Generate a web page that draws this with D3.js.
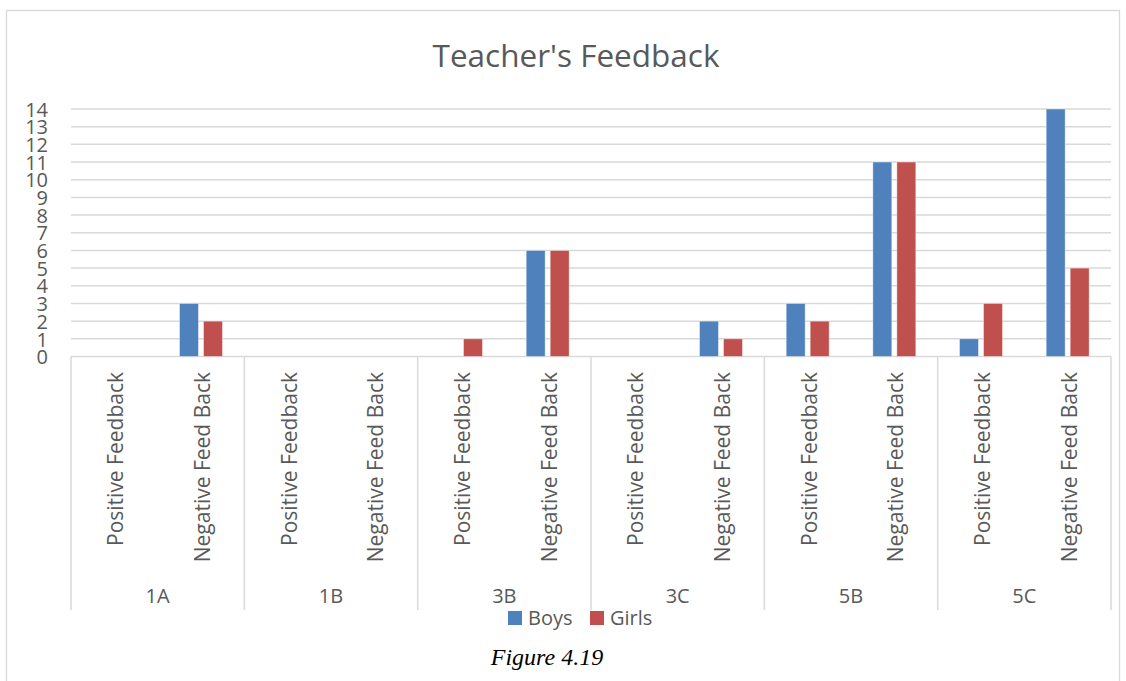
<!DOCTYPE html>
<html><head><meta charset="utf-8">
<script src="https://cdn.jsdelivr.net/npm/d3@7"></script>
<style>body{margin:0;background:#fff}svg{display:block}</style>
</head><body>
<svg id="chart" width="1126" height="681"></svg>
<script>
const groups = ["1A","1B","3B","3C","5B","5C"];
const subcats = ["Positive Feedback","Negative Feed Back"];
const seriesNames = ["Boys","Girls"];
const boys  = [0,3, 0,0, 0,6, 0,2, 3,11, 1,14];
const girls = [0,2, 0,0, 1,6, 0,1, 2,11, 3,5];
const yTicks = [0,1,2,3,4,5,6,7,8,9,10,11,12,13,14];
const colors = ["#4F81BD","#C0504D"];
const title = "Teacher's Feedback";
const caption = "Figure 4.19";

const font = "'Open Sans', 'Noto Sans', sans-serif";
const svg = d3.select("#chart");

// outer frame
svg.append("rect").attr("x",6.5).attr("y",10.5).attr("width",1113).attr("height",700)
  .attr("fill","none").attr("stroke","#d9d9d9").attr("stroke-width",1.3);

const pLeft = 71, pRight = 1111, pTop = 109, pBottom = 356.5;
const y = d3.scaleLinear().domain([0,14]).range([pBottom, pTop]);
const x0 = d3.scaleBand().domain(groups).range([pLeft,pRight]);
const x1 = d3.scaleBand().domain(subcats).range([0, x0.bandwidth()]);
const x2 = d3.scaleBand().domain(seriesNames).range([0, x1.bandwidth()]).paddingInner(0.21).paddingOuter(0.91);

// gridlines
svg.append("g").selectAll("line").data(yTicks).join("line")
  .attr("x1",pLeft).attr("x2",pRight).attr("y1",d=>y(d)).attr("y2",d=>y(d))
  .attr("stroke","#d9d9d9").attr("stroke-width",1.5);

// y labels
const yAxis = d3.axisLeft(y).tickValues(yTicks).tickSize(0).tickPadding(0);
const ya = svg.append("g").attr("transform","translate(48,0)").call(yAxis);
ya.select(".domain").remove();
ya.selectAll("text").attr("font-family",font).attr("font-size",20).attr("fill","#595959").attr("dy","0.36em");

// bars
const rows = [];
groups.forEach((g,gi)=>subcats.forEach((s,si)=>{
  const i = gi*2+si;
  rows.push({g,s,series:"Boys",v:boys[i],c:colors[0]});
  rows.push({g,s,series:"Girls",v:girls[i],c:colors[1]});
}));
svg.append("g").selectAll("rect").data(rows.filter(d=>d.v>0)).join("rect")
  .attr("x",d=>x0(d.g)+x1(d.s)+x2(d.series))
  .attr("y",d=>y(d.v)).attr("width",x2.bandwidth()).attr("height",d=>y(0)-y(d.v))
  .attr("fill",d=>d.c).attr("stroke","#fff").attr("stroke-opacity",0.5).attr("stroke-width",0.8);

// category axis separators
const seps = groups.map(g=>x0(g)).concat([pRight]);
svg.append("g").selectAll("line").data(seps).join("line")
  .attr("x1",d=>d).attr("x2",d=>d).attr("y1",pBottom).attr("y2",610)
  .attr("stroke","#d9d9d9").attr("stroke-width",1.5);

// sub labels
const subs = [];
groups.forEach(g=>subcats.forEach(s=>subs.push({g,s})));
svg.append("g").selectAll("text").data(subs).join("text")
  .attr("transform",d=>`translate(${x0(d.g)+x1(d.s)+x1.bandwidth()/2+9},372) rotate(-90)`)
  .attr("text-anchor","end").attr("font-family",font).attr("font-size",21).attr("fill","#595959")
  .text(d=>d.s);

// group labels
svg.append("g").selectAll("text").data(groups).join("text")
  .attr("x",d=>x0(d)+x0.bandwidth()/2).attr("y",603).attr("text-anchor","middle")
  .attr("font-family",font).attr("font-size",20).attr("fill","#595959").text(d=>d);

// title
svg.append("text").attr("x",576).attr("y",67).attr("text-anchor","middle")
  .attr("font-family",font).attr("font-size",31.5).attr("fill","#595959").text(title);

// legend
const lg = svg.append("g");
const lx = [508,590];
seriesNames.forEach((s,i)=>{
  lg.append("rect").attr("x",lx[i]).attr("y",611).attr("width",14).attr("height",14).attr("fill",colors[i]);
  lg.append("text").attr("x",lx[i]+20).attr("y",625).attr("font-family",font).attr("font-size",20)
    .attr("fill","#595959").text(s);
});

// caption
svg.append("text").attr("x",547).attr("y",665).attr("text-anchor","middle")
  .attr("font-family","'Liberation Serif', 'Times New Roman', serif").attr("font-style","italic")
  .attr("font-size",24).attr("fill","#000").text(caption);
</script>
</body></html>
